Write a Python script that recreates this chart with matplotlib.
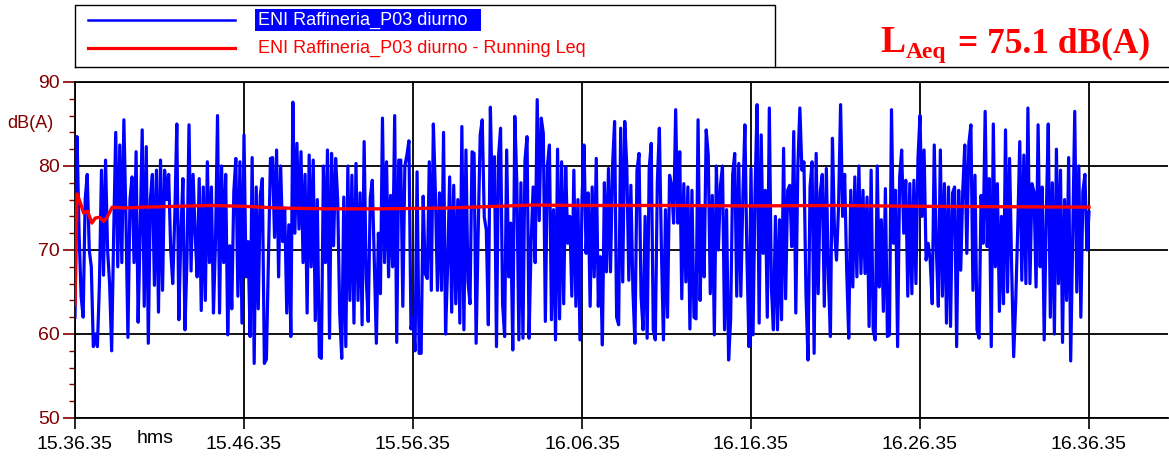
import numpy as np
import matplotlib.pyplot as plt
from matplotlib.patches import Rectangle
from matplotlib.lines import Line2D

# --- dati (dB(A)) ---
# livello istantaneo, campioni equidistanti tra 15.36.35 e 16.36.35
livelli = [
    62.0, 83.5, 72, 64.5, 62, 76, 79, 70, 68, 58.5, 60, 58.5, 66, 79.5, 67, 80.7, 70, 66, 58, 72, 84, 68, 82.5,
    68.5, 85.5, 74, 59.6, 76, 78.7, 68.5, 81.7, 61.4, 72, 84.3, 63.3, 82.3, 58.9, 76, 79, 65.8, 79.5, 62.6, 80.7,
    65.2, 79.5,
    76, 79, 70, 66, 74, 85, 61.7, 72, 78.5, 60.5, 69, 84.9, 67.5, 79, 72, 66.8, 78.5, 62.8, 77.5, 64, 80.5, 68.5,
    77.5, 62.5, 71, 86, 62.5, 80, 68.5, 79, 59.9, 70.5, 63, 77, 80.9, 64.5, 80.5, 61.3, 83.7, 66.8, 71, 59.7, 81,
    56.5,
    77.5, 63, 76.5, 78.5, 56.5, 57, 69, 80.9, 81, 71.5, 81.9, 66.8, 80, 71, 75, 62.5, 73, 59.7, 87.6, 72, 82.7,
    72.5, 81.7, 68.5, 79, 62.5, 81.3, 68, 80.7, 61.6, 76, 57.3, 57.1, 80, 68.5, 81.9, 59.5, 81.5, 70.5, 80.9, 76,
    62.5, 57.1, 76.3,
    58.5, 80, 64, 78.9, 61.3, 80.3, 64, 76.8, 61.1, 82.9, 66.8, 61.5, 76.2, 78.3, 68.8, 58.9, 72, 64.8, 85.7, 68.5,
    80.5, 66.8, 76.5, 68, 86, 59, 80.7, 80.7, 63.3, 80, 81.3, 83, 60.6, 62, 58, 79.3, 57.7, 57.7, 76.4, 67.2, 66.6,
    80.5, 65.2, 85, 76.8, 65.2,
    76.8, 65.2, 84, 60, 68, 78.7, 62.6, 77.7, 63.6, 76, 61.3, 84.7, 60.5, 81.9, 66.2, 63.6, 81.7, 81.5, 58.9, 72,
    83.7, 85.5, 73.9, 72.4, 61.1, 87, 75.2, 81.1, 58.5, 81.1, 84.5, 63.6, 59.7, 81.9, 66.8, 73.2, 58.1, 85.9, 77.9,
    59.3,
    78, 59.5, 80.7, 83.5, 59.5, 70.8, 77.5, 68.5, 87.9, 73.5, 85.7, 83.9, 61.5, 80, 82.5, 61.7, 74.8, 59.3, 82,
    61.8, 80.5, 63.6, 79.9, 70.8, 74, 64.5, 79.5, 63.3, 76, 59.3, 76, 82.5, 69.6, 76.8, 63.3, 77.5, 66.8, 80.9,
    63.3, 69.2, 58.7, 78, 67.4, 79.7,
    67.4, 80, 85.3, 62, 61.1, 84.5, 66.2, 85.3, 79.9, 66.4, 77.7, 65.2, 58.9, 79.5, 81.5, 64.5, 60.5, 74, 59.5,
    79.7, 82.7, 60.5, 59.3, 78.1, 84.5, 70, 59.3, 74.8, 62, 78.9, 77.7, 73.2, 86.7, 73.2, 81.7, 64.2, 77.9, 66.2,
    77.5, 60.6, 77.1, 62,
    61.8, 85.5, 64, 75.3, 66.8, 84.3, 81.3, 64.8, 76.5, 59.9, 80, 70, 77.7, 80, 60.5, 74.8, 56.9, 61.7, 79, 81.5,
    64.5, 80.3, 64.5, 76.3, 84.9, 69.2, 58.5, 79.7, 59.9, 77.1, 87.3, 61.3, 83.7, 69.6, 77.1, 62, 86.9, 65.6, 60.5,
    74,
    60.5, 73.6, 61.7, 82.1, 64.2, 77.1, 77.7, 70.4, 84.1, 62.5, 79.9, 86.9, 79.5, 80.5, 64.8, 56.9, 77.5, 80.5,
    57.7, 81.5, 64.8, 76.9, 79, 63.3, 79.7, 66.8, 59.7, 83.3, 72.2, 68.8, 75.2, 87.3, 74, 79, 67.6, 59.5, 77.1,
    65.6, 78.7, 66.8, 80, 67.2, 77.1,
    67.2, 76.3, 60.9, 79.5, 60.5, 59.3, 80, 65.6, 73.6, 62.7, 77.3, 59.7, 59.9, 86.7, 70.8, 77.1, 58.5, 78.7, 81.9,
    72, 78.3, 64.5, 77.9, 64.8, 78.3, 66, 80.9, 86, 74, 81.9, 68.8, 70.8, 68.8, 63.6, 82.5, 70.4, 63.3, 81.9, 64.5,
    77.9, 61.3, 77.5, 60.9, 76.8,
    77.5, 58.5, 77.1, 67.6, 77.1, 82.5, 69.6, 82.7, 84.9, 65.2, 78.9, 60.5, 59.5, 76.5, 70.8, 86.5, 70.4, 78.5,
    58.5, 85, 68, 77.9, 62.7, 74, 63.6, 84.3, 65, 80.9, 68, 57.3, 63.8, 72.6, 82.9, 66.4, 81.3, 66, 86.9, 66, 77.9,
    76.9, 65.6, 84.9, 68, 77.5, 59.3,
    74, 85, 62, 78, 60, 82, 66, 79.5, 59, 76, 64, 81, 56.8, 72, 86.5, 65, 80, 62, 77, 79, 70, 74.5,
]

# Leq progressivo (minuti dall'inizio, dB(A))
leq_min = [0, 0.12, 0.32, 0.51, 0.75, 1.0, 1.2, 1.45, 1.7, 1.9, 2.2, 3, 4, 6, 8, 10, 12, 15, 18, 20, 22,
           25, 27, 30, 35, 40, 45, 50, 55, 60]
leq_val = [63.5, 76.7, 75.6, 74.4, 74.6, 73.2, 73.8, 73.9, 73.4, 73.9, 75.1, 75.0, 75.1, 75.2, 75.3, 75.2,
           75.0, 74.9, 74.9, 74.95, 75.0, 75.2, 75.35, 75.3, 75.3, 75.25, 75.3, 75.2, 75.15, 75.1]

tick_lab = ['15.36.35', '15.46.35', '15.56.35', '16.06.35', '16.16.35', '16.26.35', '16.36.35']
laeq = '75.1'

W, H = 1169, 457
plt.rcParams['font.family'] = ['Liberation Sans', 'DejaVu Sans']
fig = plt.figure(figsize=(W / 100, H / 100), dpi=100)
ax = fig.add_axes([75 / W, 1 - 418 / H, (1168 - 75) / W, (418 - 82) / H])

t = np.linspace(0, 60, len(livelli))
ax.plot(t, livelli, color='#0000ff', lw=2.3, zorder=3)
ax.plot(leq_min, leq_val, color='#ff0000', lw=2.4, zorder=4)

ax.set_xlim(0, (1168 - 75) / 16.9)
ax.set_ylim(50, 90)
ax.set_xticks(np.arange(0, 61, 10))
ax.set_xticklabels(tick_lab, fontsize=14)
ax.set_yticks([50, 60, 70, 80, 90])
ax.set_yticks(np.arange(50, 91, 2), minor=True)
ax.tick_params(axis='y', colors='#800000', labelsize=14, length=9, width=1.2, pad=2)
ax.tick_params(axis='y', which='minor', colors='#800000', length=4, width=1)
ax.tick_params(axis='x', length=8, width=1.2, pad=5)
for s in ['left', 'top', 'bottom']:
    ax.spines[s].set_color('black')
    ax.spines[s].set_linewidth(1.3)
ax.spines['right'].set_visible(False)
ax.grid(True, color='black', lw=1.3)
ax.text(4.73, -0.062, 'hms', transform=ax.get_xaxis_transform(), ha='center', va='center', fontsize=14)
fig.text(30 / W, 1 - 124 / H, 'dB(A)', color='#800000', fontsize=13, ha='center', va='center')

# intestazione con legenda
fig.add_artist(Line2D([75 / W, 775 / W, 775 / W, 75 / W, 75 / W],
                      [1 - 67 / H, 1 - 67 / H, 1 - 5 / H, 1 - 5 / H, 1 - 67 / H], color='black', lw=1))
fig.add_artist(Line2D([775 / W, 1], [1 - 67 / H, 1 - 67 / H], color='black', lw=1))
fig.add_artist(Line2D([88 / W, 235 / W], [1 - 20 / H, 1 - 20 / H], color='#0000ff', lw=1.8))
fig.add_artist(Line2D([88 / W, 235 / W], [1 - 48 / H, 1 - 48 / H], color='#ff0000', lw=2.3))
fig.add_artist(Rectangle((255 / W, 1 - 31 / H), 226 / W, 22 / H, color='#0000ff', lw=0))
fig.text(258 / W, 1 - 20 / H, 'ENI Raffineria_P03 diurno', color='white', fontsize=13, va='center')
fig.text(258 / W, 1 - 48 / H, 'ENI Raffineria_P03 diurno - Running Leq', color='#ff0000', fontsize=13,
         va='center')

fig.text(880 / W, 1 - 52 / H, 'L', color='#ff0000', fontsize=27, fontweight='bold',
         family='Liberation Serif', va='baseline')
fig.text(906 / W, 1 - 58 / H, 'Aeq', color='#ff0000', fontsize=17, fontweight='bold',
         family='Liberation Serif', va='baseline')
fig.text(958 / W, 1 - 52 / H, '= ' + laeq + ' dB(A)', color='#ff0000', fontsize=25.5, fontweight='bold',
         family='Liberation Serif', va='baseline')

fig.savefig('out.png', dpi=100)
